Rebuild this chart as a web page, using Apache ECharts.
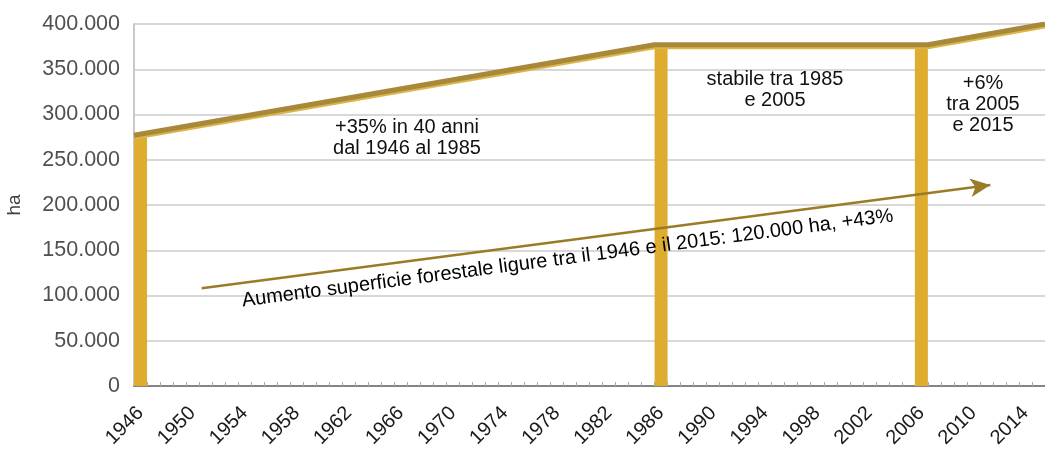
<!DOCTYPE html>
<html>
<head>
<meta charset="utf-8">
<script src="https://cdn.jsdelivr.net/npm/echarts@6/dist/echarts.min.js"></script>
<style>
html,body{margin:0;padding:0;background:#fff;}
#c{width:1045px;height:450px;}
</style>
</head>
<body>
<div id="c"></div>
<script>
// Categories (years)
const years = [1946,1947,1948,1949,1950,1951,1952,1953,1954,1955,1956,1957,1958,1959,1960,1961,1962,1963,1964,1965,1966,1967,1968,1969,1970,1971,1972,1973,1974,1975,1976,1977,1978,1979,1980,1981,1982,1983,1984,1985,1986,1987,1988,1989,1990,1991,1992,1993,1994,1995,1996,1997,1998,1999,2000,2001,2002,2003,2004,2005,2006,2007,2008,2009,2010,2011,2012,2013,2014,2015];
// Bars (forest area, ha)
const barYears = [1946, 1986, 2006];
const barValues = [275000, 376000, 376000];
// Trend line (year, ha)
const lineYears = [1945.5, 1985.5, 2006.5, 2015.5];
const lineValues = [277000, 377000, 377000, 400000];
// Arrow (year, ha)
const arrowStart = [1950.7, 108000];
const arrowEnd = [2011.3, 222000];
const arrowText = 'Aumento superficie forestale ligure tra il 1946 e il 2015: 120.000 ha, +43%';
const notes = [
  {text: '+35% in 40 anni\ndal 1946 al 1985', x: 407, y: 138},
  {text: 'stabile tra 1985\ne 2005', x: 775, y: 90},
  {text: '+6%\ntra 2005\ne 2015', x: 983, y: 104}
];

const barData = years.map(y => { const i = barYears.indexOf(y); return i >= 0 ? barValues[i] : null; });
const lineData = lineYears.map((x, i) => [x, lineValues[i]]);

const fmt = v => String(v).replace(/\B(?=(\d{3})+(?!\d))/g, '.');
const FONT = '"Liberation Sans", Arial, sans-serif';

const chart = echarts.init(document.getElementById('c'), null, {renderer: 'canvas'});
chart.setOption({
  animation: false,
  backgroundColor: '#fff',
  textStyle: {fontFamily: FONT},
  grid: {left: 134, right: 0, top: 24, bottom: 64, containLabel: false, outerBoundsMode: 'none'},
  xAxis: [{
    type: 'category',
    data: years,
    boundaryGap: true,
    axisLine: {show: true, lineStyle: {color: '#858585', width: 2}},
    axisTick: {show: true, inside: true, length: 4, interval: 0, lineStyle: {color: '#a6a6b8', width: 1}},
    axisLabel: {interval: 3, rotate: 45, fontSize: 20, color: '#1a1a1a', fontFamily: FONT, margin: 24},
    splitLine: {show: false}
  }, {
    type: 'value',
    min: 1945.5, max: 2015.5,
    show: false
  }],
  yAxis: {
    type: 'value',
    min: 0, max: 400000, interval: 50000,
    name: 'ha',
    nameLocation: 'middle',
    nameGap: 110,
    nameTextStyle: {fontSize: 19, color: '#404040', fontFamily: FONT},
    axisLine: {show: true, lineStyle: {color: '#c8c8c8', width: 2}},
    axisTick: {show: false},
    axisLabel: {formatter: fmt, fontSize: 21.5, color: '#505050', fontFamily: FONT, margin: 14},
    splitLine: {show: true, lineStyle: {color: '#d8d8d8', width: 2}}
  },
  series: [{
    type: 'bar',
    xAxisIndex: 0,
    data: barData,
    barWidth: 13,
    itemStyle: {color: '#DEAD30'},
    z: 2
  }, {
    type: 'line',
    xAxisIndex: 1,
    data: lineData,
    symbol: 'none',
    lineStyle: {color: '#a8893a', width: 5, shadowColor: '#d9b54a', shadowOffsetY: 2, shadowBlur: 0},
    z: 3,
    markLine: {
      silent: true,
      symbol: ['none', 'arrow'],
      symbolSize: [14, 20],
      lineStyle: {color: '#9a7b26', width: 2.5, type: 'solid'},
      label: {
        show: true,
        position: 'insideMiddleBottom',
        formatter: arrowText,
        fontSize: 20,
        color: '#000',
        fontFamily: FONT,
        distance: 8,
        offset: [-30, 0]
      },
      data: [[{coord: arrowStart}, {coord: arrowEnd}]]
    }
  }],
  graphic: notes.map(n => ({
    type: 'text',
    x: n.x, y: n.y,
    style: {text: n.text, fontSize: 20, fontFamily: FONT, fill: '#111', align: 'center', verticalAlign: 'middle', lineHeight: 21},
    z: 10
  }))
});
</script>
</body>
</html>
